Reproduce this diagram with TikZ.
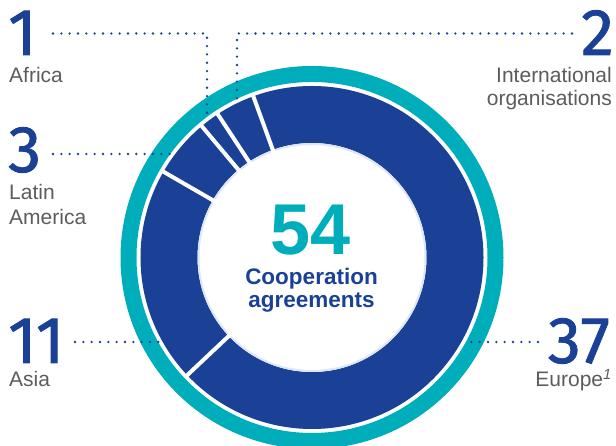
\documentclass[tikz,border=0pt]{standalone}
\usepackage{fontspec}
\setmainfont{Liberation Sans}
\newfontfamily\numfont{Fira Sans}[FakeBold=1.3]
\usetikzlibrary{calc}
\definecolor{ringteal}{RGB}{0,173,187}
\definecolor{ringblue}{RGB}{26,65,150}
\definecolor{labelgray}{RGB}{92,92,92}
\definecolor{haloblue}{RGB}{222,231,245}
\begin{document}
\begin{tikzpicture}[x=1pt,y=1pt,
  bignum/.style={inner sep=0pt, text depth=0pt, text=ringblue, font=\numfont\fontsize{66}{66}\selectfont},
  lbl/.style={inner sep=0pt, text=labelgray, font=\fontsize{21}{24}\selectfont},
  leader/.style={ringblue, line width=2.6pt, line cap=round, dash pattern=on 0pt off 8.33pt},
  segsep/.style={white, line width=4pt}]
\useasboundingbox (0,0) rectangle (616,446);
\clip (0,0) rectangle (616,446);
\coordinate (c) at (312,188.5);
% rings
\draw[ringteal, line width=16pt] (c) circle[radius=183.5];
\draw[ringblue, line width=57pt] (c) circle[radius=143];
\draw[haloblue, line width=2pt] (c) circle[radius=113.5];
\foreach \a in {110,-136.67,150,130,123.33}
  \draw[segsep] ($(c)+(\a:112)$) -- ($(c)+(\a:173.5)$);
% centre text
\node[inner sep=0pt, anchor=base, text=ringteal, font=\bfseries\fontsize{72}{72}\selectfont] (total) at (311,191) {54};
\node[inner sep=0pt, anchor=base, text=ringblue, font=\bfseries\fontsize{22.5}{24}\selectfont] (coop) at (311.5,161) {Cooperation};
\node[inner sep=0pt, anchor=base, text=ringblue, font=\bfseries\fontsize{22.5}{24}\selectfont] (agr) at (311.5,138) {agreements};
% left labels
\node[bignum, anchor=base west] (nAf) at (8,391) {1};
\node[lbl, anchor=base west] (lAf) at (9,363) {Africa};
\node[bignum, anchor=base west] (nLa) at (8,274) {3};
\node[lbl, anchor=base west] (lLa1) at (9,246) {Latin};
\node[lbl, anchor=base west] (lLa2) at (9,221) {America};
\node[bignum, anchor=base west] (nAs) at (8,83) {11};
\node[lbl, anchor=base west] (lAs) at (9,59) {Asia};
% right labels
\node[bignum, anchor=base east] (nIo) at (614,391) {2};
\node[lbl, anchor=base east] (lIo1) at (612,363) {International};
\node[lbl, anchor=base east] (lIo2) at (612,340) {organisations};
\node[bignum, anchor=base east] (nEu) at (610,83) {37};
\node[lbl, anchor=base east] (lEu) at (612,59) {Europe\textsuperscript{\itshape 1}};
% leader coordinates
\coordinate (afA) at (53,412.5);
\coordinate (afB) at (207,412.5);
\coordinate (afC) at (207,333);
\coordinate (ioA) at (572,412.5);
\coordinate (ioB) at (237,412.5);
\coordinate (ioC) at (237,346);
\coordinate (laA) at (53,292);
\coordinate (laB) at (170,292);
\coordinate (asA) at (75,104);
\coordinate (asB) at (160,104);
\coordinate (euA) at (538,104);
\coordinate (euB) at (466,104);
% leaders
\draw[leader] (afA) -- (afB) -- (afC);
\draw[leader] (ioA) -- (ioB) -- (ioC);
\draw[leader] (laA) -- (laB);
\draw[leader] (asA) -- (asB);
\draw[leader] (euA) -- (euB);
\end{tikzpicture}
\end{document}
